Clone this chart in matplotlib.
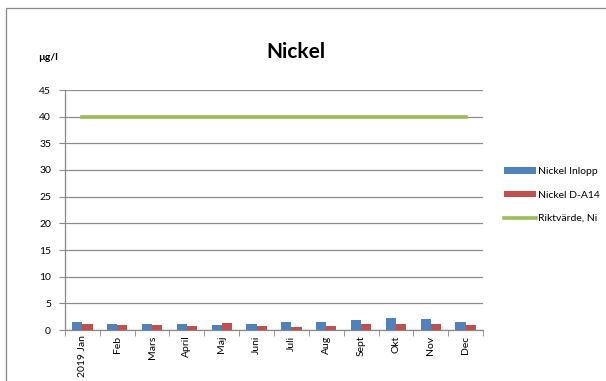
import matplotlib
matplotlib.use("Agg")
import matplotlib.pyplot as plt
import numpy as np
from matplotlib.patches import Rectangle

months = ["2019 Jan", "Feb", "Mars", "April", "Maj", "Juni", "Juli", "Aug", "Sept", "Okt", "Nov", "Dec"]
inlopp = [1.5, 1.1, 1.1, 1.1, 0.95, 1.1, 1.5, 1.5, 1.8, 2.25, 2.0, 1.5]
d_a14 = [1.1, 0.95, 0.95, 0.8, 1.3, 0.8, 0.6, 0.8, 1.05, 1.1, 1.1, 0.95]
riktvarde = [40] * 12
yticks = [0, 5, 10, 15, 20, 25, 30, 35, 40, 45]

plt.rcParams['font.family'] = ['Lato', 'DejaVu Sans']

fig = plt.figure(figsize=(6.06, 3.81), dpi=100)
ax = fig.add_axes([65/606, 1-330/381, (483-65)/606, (330-90)/381])

x = np.arange(len(months))
w = 0.29
b1 = ax.bar(x - w/2, inlopp, w, color="#4F81BD", label="Nickel Inlopp", zorder=3)
b2 = ax.bar(x + w/2, d_a14, w, color="#C0504D", label="Nickel D-A14", zorder=3)
l1, = ax.plot(x, riktvarde, color="#9BBB59", lw=2.6, label="Riktvärde, Ni", zorder=4)

ax.set_xlim(-0.5, len(months) - 0.5)
ax.set_ylim(0, 45)
ax.set_yticks(yticks)
ax.set_yticklabels([str(v) for v in yticks], fontsize=7.5)
ax.set_xticks(x)
ax.set_xticklabels(months, rotation=90, fontsize=7.5)
ax.tick_params(axis='x', length=0, pad=4)
ax.set_xticks(np.arange(-0.5, len(months)), minor=True)
ax.tick_params(axis='x', which='minor', length=4, color="#888888", direction='out')
ax.tick_params(axis='y', length=4, color="#888888", pad=6)
ax.grid(axis='y', color="#8c8c8c", lw=0.9, zorder=0)
for s in ["top", "right"]:
    ax.spines[s].set_visible(False)
for s in ["left", "bottom"]:
    ax.spines[s].set_color("#888888")
    ax.spines[s].set_linewidth(0.9)

fig.text(296/606, 1-52/381, "Nickel", fontsize=15, fontweight='bold', ha='center', va='center')
fig.text(38/606, 1-57/381, "µg/l", fontsize=7.5, fontweight='bold', ha='left', va='center')

leg = fig.legend([b1, b2, l1], ["Nickel Inlopp", "Nickel D-A14", "Riktvärde, Ni"],
                 loc='center left', bbox_to_anchor=(495/606, 1-195/381), frameon=False,
                 fontsize=7.5, handlelength=3.0, handleheight=0.6, labelspacing=1.4, handletextpad=0.25)

fig.patches.append(Rectangle((6/606, -0.1), 1.2, 1 - 8/381 + 0.1, transform=fig.transFigure,
                             fill=False, edgecolor="#888888", lw=0.9))

fig.savefig("out.png", dpi=100)
